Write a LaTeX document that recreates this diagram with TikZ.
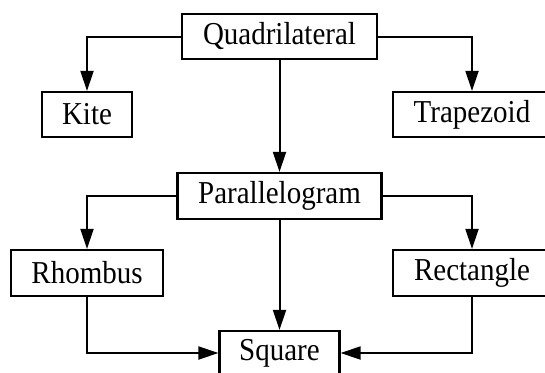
\documentclass[tikz,border=0pt]{standalone}
\usepackage{fontspec}
\setmainfont{Liberation Serif}
\usetikzlibrary{arrows.meta}
\newcommand{\tallt}[1]{\scalebox{1}[1.1]{#1}}
\begin{document}
\begin{tikzpicture}[x=1pt,y=-1pt,
  box/.style={draw,line width=2.2pt,inner sep=0pt,font=\fontsize{29}{32}\selectfont,fill=white},
  arr/.style={line width=2pt,-{Triangle[length=20pt,width=13pt]}}]
\useasboundingbox (0,0) rectangle (545,372);
\node[box,minimum width=195pt,minimum height=45pt] (q) at (279.5,36.5) {\tallt{Quadrilateral}};
\node[box,minimum width=90pt,minimum height=45pt] (k) at (87,114.5) {\tallt{Kite}};
\node[box,minimum width=158pt,minimum height=45pt] (t) at (472,114.5) {\tallt{Trapezoid}};
\node[box,minimum width=204pt,minimum height=46pt] (p) at (279.5,196) {\tallt{Parallelogram}};
\node[box,minimum width=152pt,minimum height=46pt] (r) at (87,273) {\tallt{Rhombus}};
\node[box,minimum width=158pt,minimum height=46pt] (rc) at (472,273) {\tallt{Rectangle}};
\node[box,minimum width=120pt,minimum height=44pt] (s) at (279.5,353) {\tallt{Square}};
\draw[arr] (q.west) -| (k.north);
\draw[arr] (q.east) -| (t.north);
\draw[arr] (q.south) -- (p.north);
\draw[arr] (p.west) -| (r.north);
\draw[arr] (p.east) -| (rc.north);
\draw[arr] (p.south) -- (s.north);
\draw[arr] (r.south) |- (s.west);
\draw[arr] (rc.south) |- (s.east);
\end{tikzpicture}
\end{document}
